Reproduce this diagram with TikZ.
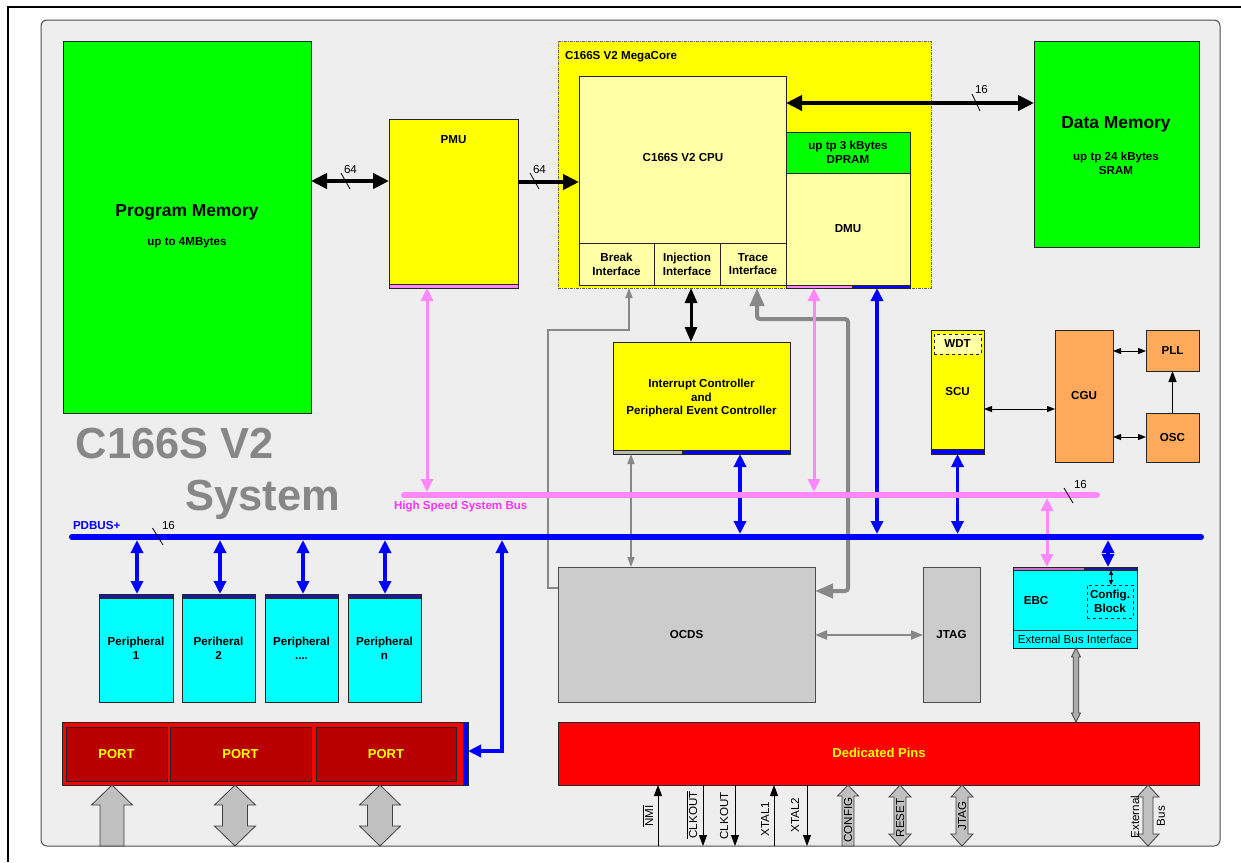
\documentclass[tikz,border=0pt]{standalone}
\usepackage{fontspec}
\setmainfont{Liberation Sans}
\usetikzlibrary{arrows.meta,calc}
\definecolor{bggray}{HTML}{EEEEEE}
\definecolor{pgreen}{HTML}{00FF00}
\definecolor{pyellow}{HTML}{FFFF00}
\definecolor{lyellow}{HTML}{FFFFA6}
\definecolor{pcyan}{HTML}{00FFFF}
\definecolor{porange}{HTML}{FFAA5A}
\definecolor{pred}{HTML}{FF0000}
\definecolor{dred}{HTML}{B80000}
\definecolor{lgray}{HTML}{CCCCCC}
\definecolor{hspink}{HTML}{FF88FF}
\definecolor{magtext}{HTML}{FF33FF}
\definecolor{pblue}{HTML}{0000FF}
\definecolor{navy}{HTML}{1A1A9A}
\definecolor{agray}{HTML}{888888}
\definecolor{bigtext}{HTML}{878787}
\definecolor{arrfill}{HTML}{C0C0C0}
\definecolor{tanbar}{HTML}{BBBBAA}
\newcommand{\lblfont}{\bfseries\fontsize{11.6}{13.8}\selectfont}
\newcommand{\regfont}{\fontsize{11.6}{13.8}\selectfont}
\newcommand{\bigfont}{\bfseries\fontsize{17.4}{20}\selectfont}
\newcommand{\portfont}{\bfseries\fontsize{13}{15}\selectfont}
\newcommand{\hugefont}{\bfseries\fontsize{43.5}{48}\selectfont}
\newcommand{\boxnode}[7]{\node[box,#2,minimum width={#5-#3},minimum height={#6-#4}] (#1) at ({(#3+#5)/2},{(#4+#6)/2}) {#7};}
\newcommand{\blkdbl}[7]{\draw[#1] ({#2-#5},{#3+#7}) -- ({#2-#6},{#3+#7}) -- (#2,#3) -- ({#2+#6},{#3+#7}) -- ({#2+#5},{#3+#7}) -- ({#2+#5},{#4-#7}) -- ({#2+#6},{#4-#7}) -- (#2,#4) -- ({#2-#6},{#4-#7}) -- ({#2-#5},{#4-#7}) -- cycle;}
\newcommand{\blkup}[7]{\draw[#1] ({#2-#5},#4) -- ({#2-#5},{#3+#7}) -- ({#2-#6},{#3+#7}) -- (#2,#3) -- ({#2+#6},{#3+#7}) -- ({#2+#5},{#3+#7}) -- ({#2+#5},#4) -- cycle;}
\tikzset{
  box/.style={draw=black!85, line width=0.8pt, inner sep=0pt, outer sep=0pt, align=center, font=\lblfont},
  txt/.style={inner sep=0pt, outer sep=0pt, align=center, font=\lblfont},
  thickdbl/.style={line width=4.5pt, {Triangle[length=16pt,width=15pt]}-{Triangle[length=16pt,width=15pt]}},
  thickone/.style={line width=4.5pt, -{Triangle[length=16pt,width=15pt]}},
  bluedbl/.style={draw=pblue, line width=3.5pt, {Triangle[length=13pt,width=12pt]}-{Triangle[length=13pt,width=12pt]}},
  pinkdbl/.style={draw=hspink, line width=3pt, {Triangle[length=13pt,width=12pt]}-{Triangle[length=13pt,width=12pt]}},
  blkdblarr/.style={line width=3pt, {Triangle[length=15pt,width=12pt]}-{Triangle[length=15pt,width=12pt]}},
  graythin/.style={draw=agray, line width=1.5pt},
  gtip/.style={{Triangle[length=10pt,width=7pt]}-{Triangle[length=10pt,width=7pt]}},
  graythick/.style={draw=agray, line width=4pt, rounded corners=3pt, {Triangle[length=18pt,width=14pt]}-{Triangle[length=18pt,width=14pt]}},
  thinblk/.style={line width=1pt, {Triangle[length=8pt,width=6pt]}-{Triangle[length=8pt,width=6pt]}},
  pinarr/.style={line width=1pt, -{Triangle[length=11pt,width=8pt]}},
  blockarr/.style={fill=arrfill, draw=black!75, line width=0.8pt},
  slash/.style={line width=0.8pt},
  wlbl/.style={inner sep=0pt, outer sep=0pt, font=\regfont, anchor=west},
  pinlbl/.style={inner sep=0pt, outer sep=0pt, font=\regfont, rotate=90}
}
\begin{document}
\begin{tikzpicture}[x=1pt,y=-1pt]
\useasboundingbox (0,0) rectangle (1241,862);
% outer frame
\draw[line width=1.5pt] (8,862) -- (8,7) -- (1241,7);
% system background
\node[box, fill=bggray, draw=black!70, line width=1pt, rounded corners=6pt, minimum width=1179, minimum height=826] (sys) at (630.5,433) {};
% memories
\boxnode{progmem}{fill=pgreen}{63}{41}{311}{413}{}
\node[txt, font=\bigfont] (pmtitle) at (187,212) {Program Memory};
\node[txt] (pmsub) at (187,243) {up to 4MBytes};
\boxnode{datamem}{fill=pgreen}{1034}{41}{1199}{247}{}
\node[txt, font=\bigfont] (dmtitle) at (1116,124) {Data Memory};
\node[txt] (dmsub) at (1116,163) {up tp 24 kBytes\\SRAM};
% PMU
\boxnode{pmu}{fill=pyellow}{389}{119}{518}{288}{}
\boxnode{pmubar}{fill=hspink}{389}{284}{518}{288}{}
\node[txt] (pmulbl) at (453.5,140) {PMU};
% MegaCore
\boxnode{megacore}{fill=pyellow, draw=black!60, dash pattern=on 3pt off 1pt on 1pt off 1pt}{558}{41}{931}{288}{}
\node[txt, anchor=west] (mclbl) at (565,57) {C166S V2 MegaCore};
\boxnode{cpu}{fill=lyellow}{579}{76}{786}{285}{}
\node[txt] (cpulbl) at (683,158) {C166S V2 CPU};
\boxnode{brk}{fill=lyellow}{579}{243}{654}{285}{Break\\Interface}
\boxnode{inj}{fill=lyellow}{654}{243}{720}{285}{Injection\\Interface}
\boxnode{trc}{fill=lyellow}{720}{243}{786}{285}{Trace\\Interface}
\boxnode{dpram}{fill=pgreen}{786}{132}{910}{173}{up tp 3 kBytes\\DPRAM}
\boxnode{dmu}{fill=lyellow}{786}{173}{910}{285}{DMU}
\boxnode{dmubarp}{fill=hspink}{786}{285}{852}{288}{}
\boxnode{dmubarb}{fill=pblue}{852}{285}{910}{288}{}
% Interrupt controller
\boxnode{intc}{fill=pyellow}{613}{342}{790}{454}{Interrupt Controller\\and\\Peripheral Event Controller}
\boxnode{intcbarg}{fill=tanbar}{613}{450}{682}{454}{}
\boxnode{intcbarb}{fill=pblue}{682}{450}{790}{454}{}
% SCU / CGU
\boxnode{scu}{fill=pyellow}{931}{330}{984}{454}{SCU}
\boxnode{scubar}{fill=pblue}{931}{449}{984}{454}{}
\boxnode{wdt}{fill=lyellow, dashed}{934}{334}{981}{354}{WDT}
\boxnode{cgu}{fill=porange}{1055}{330}{1113}{462}{CGU}
\boxnode{pll}{fill=porange}{1146}{330}{1199}{371}{PLL}
\boxnode{osc}{fill=porange}{1146}{413}{1199}{462}{OSC}
% peripherals
\boxnode{p1}{fill=pcyan}{99}{594}{173}{702}{Peripheral\\1}
\boxnode{p2}{fill=pcyan}{182}{594}{255}{702}{Periheral\\2}
\boxnode{p3}{fill=pcyan}{265}{594}{338}{702}{Peripheral\\....}
\boxnode{p4}{fill=pcyan}{348}{594}{421}{702}{Peripheral\\n}
\boxnode{p1bar}{fill=navy}{99}{594}{173}{598}{}
\boxnode{p2bar}{fill=navy}{182}{594}{255}{598}{}
\boxnode{p3bar}{fill=navy}{265}{594}{338}{598}{}
\boxnode{p4bar}{fill=navy}{348}{594}{421}{598}{}
% ports
\boxnode{portsbar}{fill=pred}{62}{722}{468}{785}{}
\boxnode{portsblue}{fill=pblue}{463}{722}{468}{785}{}
\boxnode{port1}{fill=dred, text=pyellow, font=\portfont}{66}{727}{167}{781}{PORT}
\boxnode{port2}{fill=dred, text=pyellow, font=\portfont}{170}{727}{311}{781}{PORT}
\boxnode{port3}{fill=dred, text=pyellow, font=\portfont}{316}{727}{456}{781}{PORT}
% OCDS / JTAG
\boxnode{ocds}{fill=lgray, draw=black!70}{558}{567}{815}{702}{OCDS}
\boxnode{jtag}{fill=lgray, draw=black!70}{923}{567}{980}{702}{JTAG}
% EBC
\boxnode{ebc}{fill=pcyan}{1013}{567}{1137}{648}{}
\draw[line width=0.8pt, black!85] (ebc.west |- 0,630) -- (ebc.east |- 0,630);
\boxnode{ebcbarp}{fill=hspink!80!black}{1013}{567}{1084}{570}{}
\boxnode{ebcbarb}{fill=navy}{1084}{567}{1137}{570}{}
\boxnode{cfg}{dashed, fill=pcyan}{1087}{585}{1133}{618}{Config.\\Block}
\node[txt] (ebclbl) at (1036,600) {EBC};
\node[txt, font=\regfont] (ebilbl) at (1075,639) {External Bus Interface};
% dedicated pins
\boxnode{pins}{fill=pred}{558}{722}{1199}{785}{}
\node[txt, text=pyellow, font=\portfont] (pinslbl) at (879,753) {Dedicated Pins};
% big title
\node[anchor=base west, inner sep=0pt, text=bigtext, font=\hugefont] (sys1) at (75.5,458) {C166S V2};
\node[anchor=base west, inner sep=0pt, text=bigtext, font=\hugefont] (sys2) at (185,510) {System};
% bus coordinates
\coordinate (hsL) at (404,495);
\coordinate (hsR) at (1097,495);
\coordinate (pdL) at (72,537);
\coordinate (pdR) at (1201,537);
% thick black arrows
\draw[thickdbl] (progmem.east |- 0,181) -- (pmu.west |- 0,181);
\draw[thickone] (pmu.east |- 0,182) -- (cpu.west |- 0,182);
\draw[thickdbl] (cpu.east |- 0,103) -- (datamem.west |- 0,103);
\draw[slash] (341,173) -- (350,189);
\node[wlbl] (w64a) at (344,170) {64};
\draw[slash] (530,173) -- (539,189);
\node[wlbl] (w64b) at (533,170) {64};
\draw[slash] (972,94) -- (980,111);
\node[wlbl] (w16a) at (975,90) {16};
\draw[blkdblarr] (megacore.south -| 691,0) -- (intc.north -| 691,0);
% gray debug lines
\draw[graythin, -{Triangle[length=10pt,width=7pt]}] (ocds.west |- 0,588) -- (548,588) -- (548,330) -- (629,330) -- (megacore.south -| 629,0);
\draw[graythick] (megacore.south -| 757,0) -- (757,319) -- (848,319) -- (848,591) -- (ocds.east |- 0,591);
\draw[graythin, gtip] (intc.south -| 631,0) -- (ocds.north -| 631,0);
\draw[graythin, line width=2pt, {Triangle[length=12pt,width=9pt]}-{Triangle[length=12pt,width=9pt]}] (ocds.east |- 0,635) -- (jtag.west |- 0,635);
% pink bus arrows
\draw[pinkdbl] (pmu.south -| 427,0) -- (427,492);
\draw[pinkdbl] (megacore.south -| 814,0) -- (814,492);
\draw[pinkdbl] (1047,498) -- (ebc.north -| 1047,0);
% blue bus arrows
\draw[bluedbl] (intc.south -| 740,0) -- (740,534);
\draw[bluedbl] (megacore.south -| 877,0) -- (877,534);
\draw[bluedbl] (scu.south) -- (957.5,534);
\draw[bluedbl] (1108,540) -- (ebc.north -| 1108,0);
\draw[bluedbl] (137,540) -- (p1.north -| 137,0);
\draw[bluedbl] (220,540) -- (p2.north -| 220,0);
\draw[bluedbl] (303,540) -- (p3.north -| 303,0);
\draw[bluedbl] (385,540) -- (p4.north -| 385,0);
\draw[bluedbl] (502,540) -- (502,751) -- (portsbar.east |- 0,751);
% clock arrows
\draw[thinblk] (scu.east |- 0,409) -- (cgu.west |- 0,409);
\draw[thinblk] (cgu.east |- 0,351) -- (pll.west |- 0,351);
\draw[thinblk] (cgu.east |- 0,437) -- (osc.west |- 0,437);
\draw[line width=1pt, -{Triangle[length=11pt,width=8pt]}] (osc.north) -- (pll.south);
% EBC internals
\draw[line width=1pt, {Triangle[length=5pt,width=4pt]}-{Triangle[length=5pt,width=4pt]}] (1111,570) -- (cfg.north -| 1111,0);
\blkdbl{blockarr, fill=arrfill!90!black}{1076}{648}{722}{2.8}{4.5}{9}
% buses
\draw[line width=6pt, hspink, line cap=round] (hsL) -- (hsR);
\draw[line width=6pt, pblue, line cap=round] (pdL) -- (pdR);
\node[txt, text=magtext, anchor=west] (hslbl) at (394,507) {High Speed System Bus};
\node[txt, text=pblue, anchor=west] (pdlbl) at (73,525) {PDBUS+};
\draw[slash] (152.5,528) -- (163,545);
\node[wlbl] (w16b) at (162,525) {16};
\draw[slash] (1064,488) -- (1073,503);
\node[wlbl] (w16c) at (1074,484) {16};
% port block arrows
\blkup{blockarr}{112}{785}{846}{12}{20.5}{20}
\blkdbl{blockarr}{235}{785}{846}{12.5}{20.5}{20}
\blkdbl{blockarr}{380}{785}{846}{12.5}{20.5}{20}
% pin arrows
\draw[pinarr] (658,846) -- (pins.south -| 658,0);
\draw[pinarr] (pins.south -| 703,0) -- (703,846);
\draw[pinarr] (pins.south -| 735,0) -- (735,846);
\draw[pinarr] (774,846) -- (pins.south -| 774,0);
\draw[pinarr] (pins.south -| 807,0) -- (807,846);
\blkup{blockarr}{848}{785}{846}{6}{10.5}{11}
\blkdbl{blockarr}{900}{785}{846}{6}{11}{12}
\blkdbl{blockarr}{962}{785}{846}{6}{11}{12}
\blkdbl{blockarr}{1148}{785}{846}{5}{11}{12}
\node[pinlbl] (nmi) at (648,816) {$\overline{\hbox{NMI}}$};
\node[pinlbl] (clkn) at (692,815) {$\overline{\hbox{CLKOUT}}$};
\node[pinlbl] (clk) at (724,816) {CLKOUT};
\node[pinlbl] (xt1) at (765,819) {XTAL1};
\node[pinlbl] (xt2) at (795,815) {XTAL2};
\node[pinlbl] (cfglbl) at (848,820) {CONFIG};
\node[pinlbl] (rst) at (900,818) {RESET};
\node[pinlbl] (jtg) at (962,816) {JTAG};
\node[pinlbl] (ext) at (1135,817) {External};
\node[pinlbl] (bus) at (1161,816) {Bus};
\end{tikzpicture}
\end{document}
